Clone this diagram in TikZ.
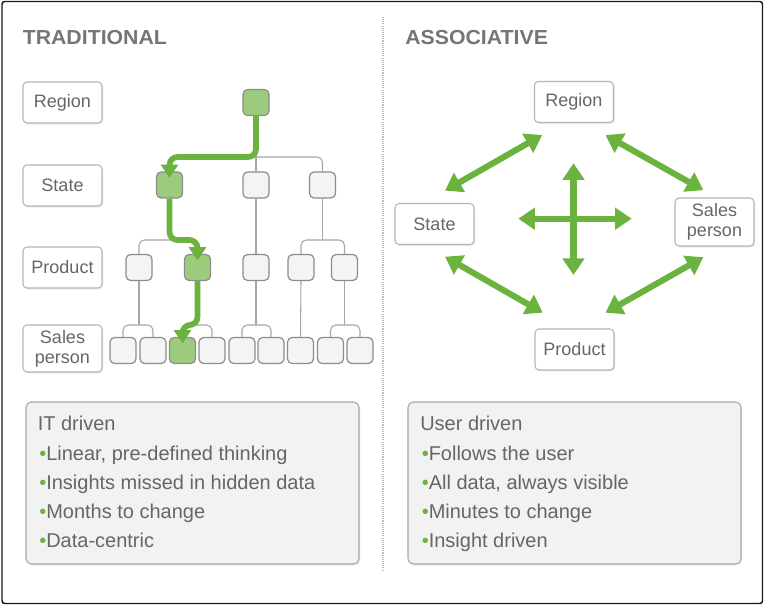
\documentclass[tikz,border=0pt]{standalone}
\usepackage{fontspec}
\setmainfont{Liberation Sans}
\newfontfamily\headfont[FakeStretch=1.05]{Liberation Sans}
\usetikzlibrary{arrows.meta,shadows}
\definecolor{txt}{HTML}{666666}
\definecolor{headc}{HTML}{757575}
\definecolor{gline}{HTML}{6AB33E}
\definecolor{gfill}{HTML}{9DCB7E}
\definecolor{nborder}{HTML}{8C8C8C}
\definecolor{nfill}{HTML}{F4F4F4}
\definecolor{lborder}{HTML}{B5B5B5}
\definecolor{connc}{HTML}{A6A6A6}
\definecolor{ibfill}{HTML}{F2F2F2}
\definecolor{ibborder}{HTML}{A8A8A8}
\definecolor{divc}{HTML}{BBBBBB}
\newcommand\gbul{{\color{gline}\textbullet}}
\begin{document}
\begin{tikzpicture}[x=0.75pt,y=-0.75pt,
  softshadow/.style={drop shadow={opacity=0.15, shadow xshift=1pt, shadow yshift=-1.3pt}},
  labelbox/.style={draw=lborder, fill=white, rounded corners=3pt, line width=0.8pt,
    minimum width=59.25pt, minimum height=30.75pt, inner sep=0pt, align=center,
    text=txt, font=\fontsize{13.5}{15}\selectfont, softshadow},
  treenode/.style={draw=nborder, fill=nfill, rounded corners=3.5pt, line width=0.9pt,
    minimum size=19.5pt, inner sep=0pt},
  greennode/.style={treenode, fill=gfill},
  connline/.style={draw=connc, line width=0.8pt, rounded corners=4pt},
  gpath/.style={draw=gline, line width=4.3pt, rounded corners=6pt,
    -{Triangle[width=12.5pt,length=10pt]}},
  biarrow/.style={draw=gline, line width=4.6pt,
    {Triangle[width=16pt,length=12.5pt]}-{Triangle[width=16pt,length=12.5pt]}},
  infobox/.style={draw=ibborder, fill=ibfill, rounded corners=4pt, line width=0.8pt,
    inner sep=0pt, minimum width=249.75pt, minimum height=121.5pt, softshadow},
  bodytext/.style={anchor=base west, inner sep=0pt, text=txt, font=\fontsize{15}{18}\selectfont},
  headtext/.style={anchor=base west, inner sep=0pt, text=headc, font=\headfont\bfseries\fontsize{15.2}{18}\selectfont}
]
\useasboundingbox (0,0) rectangle (765,606);
% frame and divider
\draw[line width=1.1pt, draw=black!90, rounded corners=2pt] (2,1.5) rectangle (762.5,603.5);
\draw[draw=divc, line width=0.8pt, dash pattern=on 0.8pt off 0.8pt] (383,17) -- (383,570);

% headings
\node[headtext] (hTrad) at (22.5,45) {TRADITIONAL};
\node[headtext] (hAssoc) at (405,45) {ASSOCIATIVE};

% left labels
\node[labelbox] (lRegion) at (62.5,102.5) {Region};
\node[labelbox] (lState) at (62.5,185.5) {State};
\node[labelbox] (lProduct) at (62.5,267.5) {Product};
\node[labelbox, minimum height=35.25pt] (lSales) at (62.5,348.5) {Sales\\person};

% tree
\coordinate (b1) at (0,157);
\coordinate (b2) at (0,240);
\coordinate (b3) at (0,325);
\node[greennode] (t0) at (256,102.5) {};
\node[greennode] (t1a) at (169.5,185) {};
\node[treenode] (t1b) at (256,185) {};
\node[treenode] (t1c) at (322.5,185) {};
\node[treenode] (t2a) at (139,267.5) {};
\node[greennode] (t2b) at (197.5,267.5) {};
\node[treenode] (t2c) at (256,267.5) {};
\node[treenode] (t2d) at (301,267.5) {};
\node[treenode] (t2e) at (344.5,267.5) {};
\node[treenode] (t3a) at (123,350.5) {};
\node[treenode] (t3b) at (153,350.5) {};
\node[greennode] (t3c) at (182.5,350.5) {};
\node[treenode] (t3d) at (212,350.5) {};
\node[treenode] (t3e) at (242,350.5) {};
\node[treenode] (t3f) at (271,350.5) {};
\node[treenode] (t3g) at (300.5,350.5) {};
\node[treenode] (t3h) at (330.5,350.5) {};
\node[treenode] (t3i) at (360,350.5) {};

\draw[connline] (t0.south) -- (t1b.north);
\draw[connline] (t1a.north) -- (t1a.north |- b1) -- (t1c.north |- b1) -- (t1c.north);
\draw[connline] (t1a.south) -- (t1a.south |- b2);
\draw[connline] (t2a.north) -- (t2a.north |- b2) -- (t2b.north |- b2) -- (t2b.north);
\draw[connline] (t1b.south) -- (t2c.north);
\draw[connline] (t1c.south) -- (t1c.south |- b2);
\draw[connline] (t2d.north) -- (t2d.north |- b2) -- (t2e.north |- b2) -- (t2e.north);
\draw[connline] (t2a.south) -- (t2a.south |- b3);
\draw[connline] (t3a.north) -- (t3a.north |- b3) -- (t3b.north |- b3) -- (t3b.north);
\draw[connline] (t2b.south) -- (t2b.south |- b3);
\draw[connline] (t3c.north) -- (t3c.north |- b3) -- (t3d.north |- b3) -- (t3d.north);
\draw[connline] (t2c.south) -- (t2c.south |- b3);
\draw[connline] (t3e.north) -- (t3e.north |- b3) -- (t3f.north |- b3) -- (t3f.north);
\draw[connline] (t2d.south) -- (t3g.north);
\draw[connline] (t2e.south) -- (t2e.south |- b3);
\draw[connline] (t3h.north) -- (t3h.north |- b3) -- (t3i.north |- b3) -- (t3i.north);

\draw[gpath] (t0.south) -- (t0.south |- b1) -- (t1a.north |- b1) -- ([yshift=-5pt]t1a.north);
\draw[gpath] (t1a.south) -- (t1a.south |- b2) -- (t2b.north |- b2) -- ([yshift=-5pt]t2b.north);
\draw[gpath] (t2b.south) -- (t2b.south |- b3) -- (t3c.north |- b3) -- ([yshift=-5pt]t3c.north);

% associative
\node[labelbox] (rRegion) at (574,102) {Region};
\node[labelbox] (rState) at (434.5,224) {State};
\node[labelbox, minimum height=36pt] (rSales) at (714.5,222) {Sales\\person};
\node[labelbox] (rProduct) at (574.5,349.5) {Product};
\coordinate (cross) at (573.5,218.7);

\draw[biarrow] ([shift={(8.2,12)}]rRegion.south west) -- ([shift={(10.5,-12.3)}]rState.north);
\draw[biarrow] ([shift={(-8.5,12)}]rRegion.south east) -- ([shift={(-11.2,-7.3)}]rSales.north);
\draw[biarrow] ([shift={(10.5,11.7)}]rState.south) -- ([shift={(8.3,-15.8)}]rProduct.north west);
\draw[biarrow] ([shift={(-11.2,10.7)}]rSales.south) -- ([shift={(-9,-15.8)}]rProduct.north east);
\draw[biarrow] ([shift={(0,-55.4)}]cross) -- ([shift={(0,56.3)}]cross);
\draw[biarrow] ([shift={(-55.2,0)}]cross) -- ([shift={(58.2,0)}]cross);

% info boxes
\node[infobox] (boxL) at (192.5,483) {};
\node[infobox] (boxR) at (574.5,483) {};

\node[bodytext] (l0) at (37.5,430.7) {IT driven};
\node[bodytext] (l1) at (39,460) {\gbul Linear, pre-defined thinking};
\node[bodytext] (l2) at (39,489.3) {\gbul Insights missed in hidden data};
\node[bodytext] (l3) at (39,518.6) {\gbul Months to change};
\node[bodytext] (l4) at (39,547.9) {\gbul Data-centric};

\node[bodytext] (r0) at (420,430.7) {User driven};
\node[bodytext] (r1) at (421.5,460) {\gbul Follows the user};
\node[bodytext] (r2) at (421.5,489.3) {\gbul All data, always visible};
\node[bodytext] (r3) at (421.5,518.6) {\gbul Minutes to change};
\node[bodytext] (r4) at (421.5,547.9) {\gbul Insight driven};
\end{tikzpicture}
\end{document}
